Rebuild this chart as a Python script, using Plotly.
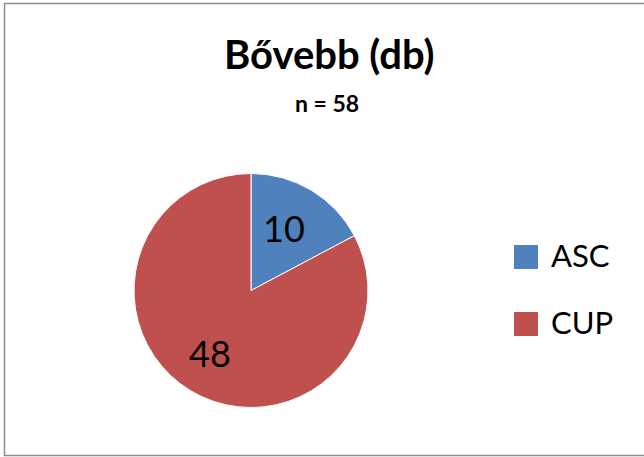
import math
import plotly.graph_objects as go

labels = ["ASC", "CUP"]
values = [10, 48]
colors = ["#4F81BD", "#C0504D"]
title_text = "Bővebb (db)"
subtitle_text = "n = 58"

W, H = 644, 457
FONT = "Lato"

# pie placement in pixels
cx, cy, r = 251, 290.5, 117

fig = go.Figure()
fig.add_trace(go.Pie(
    labels=labels, values=values, sort=False, direction="clockwise", rotation=0,
    marker=dict(colors=colors, line=dict(color="white", width=1)),
    textinfo="none", hoverinfo="label+value", showlegend=False,
    domain=dict(x=[(cx - r) / W, (cx + r) / W], y=[1 - (cy + r) / H, 1 - (cy - r) / H]),
))


def px2paper(x, y):
    return x / W, 1 - y / H


annotations = []
total = sum(values)
cum = 0
for v in values:
    mid = (cum + v / 2) / total * 2 * math.pi
    cum += v
    lx = cx - 4 + 0.62 * r * math.sin(mid)
    ly = cy - 0.62 * r * math.cos(mid)
    ax, ay = px2paper(lx, ly)
    annotations.append(dict(x=ax, y=ay, xref="paper", yref="paper",
                            xanchor="center", yanchor="middle",
                            text=str(v), showarrow=False,
                            font=dict(family=FONT, size=36, color="black")))

tx, ty = px2paper(329, 54)
annotations.append(dict(x=tx, y=ty, xref="paper", yref="paper",
                        xanchor="center", yanchor="middle",
                        text="<b>%s</b>" % title_text, showarrow=False,
                        font=dict(family=FONT, size=40, color="black")))
sx, sy = px2paper(326.5, 103)
annotations.append(dict(x=sx, y=sy, xref="paper", yref="paper",
                        xanchor="center", yanchor="middle",
                        text="<b>%s</b>" % subtitle_text, showarrow=False,
                        font=dict(family=FONT, size=23, color="black")))

shapes = [dict(type="rect", xref="paper", yref="paper",
               x0=4.5 / W, x1=660 / W, y0=1 - 455.5 / H, y1=1 - 3.5 / H,
               line=dict(color="#8c8c8c", width=1.5), fillcolor="rgba(0,0,0,0)")]

leg_y = [257, 324]
for lab, col, ly in zip(labels, colors, leg_y):
    shapes.append(dict(type="rect", xref="paper", yref="paper",
                       x0=514 / W, x1=538 / W, y0=1 - (ly + 12) / H, y1=1 - (ly - 12) / H,
                       line=dict(width=0), fillcolor=col))
    lx, lyp = px2paper(549, ly - 2)
    annotations.append(dict(x=lx, y=lyp, xref="paper", yref="paper",
                            xanchor="left", yanchor="middle", text=lab, showarrow=False,
                            font=dict(family=FONT, size=31, color="black")))

fig.update_layout(width=W, height=H, margin=dict(l=0, r=0, t=0, b=0),
                  paper_bgcolor="white", plot_bgcolor="white",
                  annotations=annotations, shapes=shapes)
fig.write_html("out.html", config={"displayModeBar": False},
               post_script="document.body.style.margin='0';document.body.style.overflow='hidden';")
